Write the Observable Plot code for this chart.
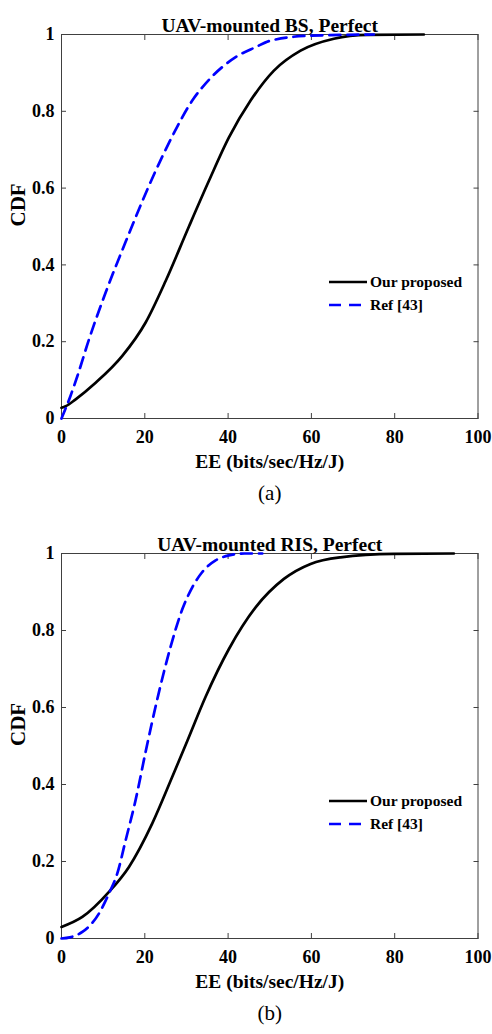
<!DOCTYPE html>
<html><head><meta charset="utf-8">
<script src="https://cdn.jsdelivr.net/npm/d3@7"></script>
<script src="https://cdn.jsdelivr.net/npm/@observablehq/plot@0.6"></script>
<style>
body{margin:0;background:#fff;}
#wrap{position:relative;width:492px;height:1034px;}
#wrap svg{display:block;}
.legend{position:absolute;font-family:"Liberation Serif","Times New Roman",serif;font-weight:bold;font-size:15.5px;color:#000;line-height:23px;}
.legend .row{display:flex;align-items:center;height:23px;}
.legend svg{margin-right:2px;}
</style></head><body><div id="wrap"></div>
<script>
const xTicks = [0, 20, 40, 60, 80, 100];
const yTicks = [0, 0.2, 0.4, 0.6, 0.8, 1];
const seriesNames = ["Our proposed", "Ref [43]"];
const titles = ["UAV-mounted BS, Perfect", "UAV-mounted RIS, Perfect"];
const captions = ["(a)", "(b)"];
const xLabel = "EE (bits/sec/Hz/J)";
const yLabel = "CDF";

// Panel (a): UAV-mounted BS
const bsOursEE  = [0, 1, 3.4, 8.2, 14.6, 20.2, 25, 30.6, 35.4, 40.2, 45.4, 51, 57.4, 65.4, 73.4, 87];
const bsOursCDF = [0.028, 0.032, 0.05, 0.093, 0.163, 0.25, 0.358, 0.5, 0.619, 0.732, 0.828, 0.906, 0.958, 0.989, 0.999, 1.0];
const bsRefEE   = [0, 2.2, 3.8, 6.6, 10.6, 15.4, 22.6, 26.6, 31.4, 35.4, 41.8, 46.6, 50.2, 59.8, 75];
const bsRefCDF  = [0, 0.06, 0.11, 0.206, 0.328, 0.46, 0.645, 0.735, 0.828, 0.882, 0.941, 0.967, 0.984, 0.997, 1.0];

// Panel (b): UAV-mounted RIS
const risOursEE  = [0, 5, 11.4, 16.2, 21.8, 26.6, 30.2, 34.6, 40.2, 46.6, 53.4, 59.8, 67, 79.8, 94.2];
const risOursCDF = [0.03, 0.056, 0.121, 0.186, 0.299, 0.42, 0.513, 0.628, 0.752, 0.86, 0.934, 0.973, 0.99, 0.999, 1.0];
const risRefEE   = [0, 2, 5, 9, 11.4, 13.4, 15.4, 17.8, 20.2, 23.4, 26.2, 29, 31.4, 33.8, 37, 40.2, 44, 48.2];
const risRefCDF  = [0, 0.003, 0.017, 0.065, 0.117, 0.169, 0.255, 0.36, 0.485, 0.64, 0.758, 0.855, 0.912, 0.952, 0.982, 0.995, 1.0, 1.0];

const FONT = '"Liberation Serif","Times New Roman",serif';
const AX = "#404040";

function toRows(ee, cdf) { return ee.map((x, i) => ({x, y: cdf[i]})); }

function panel(i, ours, ref, height, marginBottom) {
  return Plot.plot({
    width: 492, height,
    marginLeft: 61, marginRight: 14.5, marginTop: 34, marginBottom,
    x: {domain: [0, 100]},
    y: {domain: [0, 1]},
    style: {fontFamily: FONT, fontSize: "18px", fontWeight: "bold", color: "#000", background: "#fff", overflow: "visible"},
    marks: [
      Plot.frame({stroke: AX, strokeWidth: 1}),
      Plot.axisX(xTicks, {anchor: "bottom", tickSize: 0, tickPadding: 12, label: null, fill: "#000"}),
      Plot.axisX(xTicks, {anchor: "bottom", tickSize: 5, dy: -5, fill: "none", label: null, stroke: AX}),
      Plot.axisX(xTicks, {anchor: "top", tickSize: 5, dy: 5, fill: "none", label: null, stroke: AX}),
      Plot.axisY(yTicks, {anchor: "left", tickSize: 0, tickPadding: 7, label: null, fill: "#000", tickFormat: d => String(d)}),
      Plot.axisY(yTicks, {anchor: "left", tickSize: 5, dx: 5, fill: "none", label: null, stroke: AX}),
      Plot.axisY(yTicks, {anchor: "right", tickSize: 5, dx: -5, fill: "none", label: null, stroke: AX}),
      Plot.line(ours, {x: "x", y: "y", stroke: "#000", strokeWidth: 2.7, curve: "monotone-x"}),
      Plot.line(ref, {x: "x", y: "y", stroke: "#0000ff", strokeWidth: 2.7, strokeDasharray: "11,7", curve: "monotone-x"}),
      Plot.text([titles[i]], {text: d => d, frameAnchor: "top", dy: -16, fontSize: 19.5, fontWeight: "bold", fill: "#000"}),
      Plot.text([yLabel], {text: d => d, frameAnchor: "left", dx: -43, rotate: -90, fontSize: 21, fontWeight: "bold", fill: "#000"}),
      Plot.text([xLabel], {text: d => d, frameAnchor: "bottom", dy: 49, fontSize: 19.5, fontWeight: "bold", fill: "#000"}),
      Plot.text([captions[i]], {text: d => d, frameAnchor: "bottom", dy: 81, fontSize: 21, fontWeight: "normal", fill: "#000"})
    ]
  });
}

const wrap = document.getElementById("wrap");
wrap.appendChild(panel(0, toRows(bsOursEE, bsOursCDF), toRows(bsRefEE, bsRefCDF), 519, 101));
wrap.appendChild(panel(1, toRows(risOursEE, risOursCDF), toRows(risRefEE, risRefCDF), 515, 96));

function legend(top) {
  const d = document.createElement("div");
  d.className = "legend";
  d.style.left = "328px";
  d.style.top = top + "px";
  const samples = [
    '<svg width="40" height="10"><line x1="1" y1="5" x2="39" y2="5" stroke="#000" stroke-width="2.7"/></svg>',
    '<svg width="40" height="10"><line x1="1" y1="5" x2="39" y2="5" stroke="#0000ff" stroke-width="2.7" stroke-dasharray="12,8"/></svg>'
  ];
  d.innerHTML = seriesNames.map((n, k) => `<div class="row">${samples[k]}<span>${n}</span></div>`).join("");
  wrap.appendChild(d);
}
legend(270);
legend(789);
</script>
</body></html>
